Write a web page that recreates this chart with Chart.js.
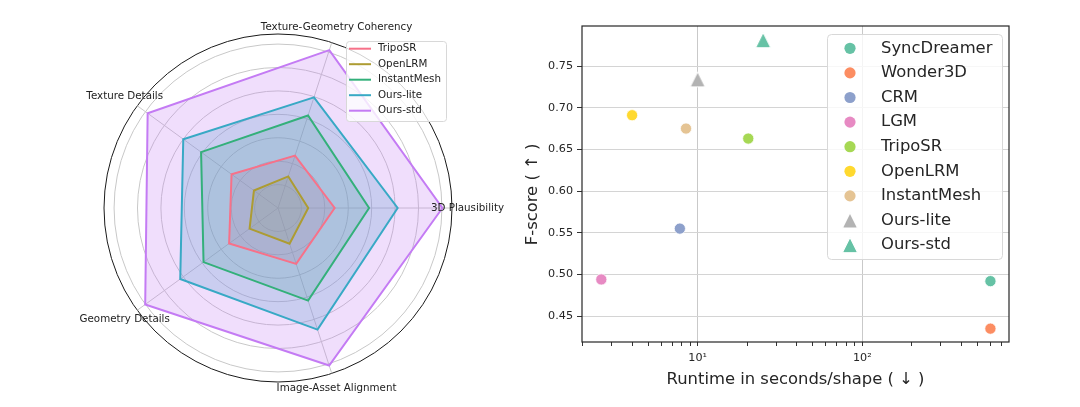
<!DOCTYPE html>
<html>
<head>
<meta charset="utf-8">
<script src="https://cdn.jsdelivr.net/npm/chart.js@4.4.1/dist/chart.umd.min.js"></script>
<style>
  body { margin: 0; background: #fff; }
  #wrap { position: relative; width: 1080px; height: 407px; }
  canvas { position: absolute; top: 0; }
  #radar { left: 0; }
  #scatter { left: 520px; }
</style>
</head>
<body>
<div id="wrap">
  <canvas id="radar" width="520" height="407"></canvas>
  <canvas id="scatter" width="560" height="407"></canvas>
</div>
<script>
// ---- radar data (axes listed clockwise starting from the right) ----
const criteria = ['3D Plausibility', 'Image-Asset Alignment', 'Geometry Details', 'Texture Details', 'Texture-Geometry Coherency'];
const radarNames = ['TripoSR', 'OpenLRM', 'InstantMesh', 'Ours-lite', 'Ours-std'];
const tripoSR = [2.42, 2.51, 2.58, 2.45, 2.35];
const openLRM = [1.29, 1.60, 1.50, 1.27, 1.42];
const instantMesh = [3.89, 4.16, 3.93, 4.06, 4.15];
const oursLite = [5.11, 5.46, 5.16, 5.00, 4.97];
const oursStd = [7.02, 7.07, 7.01, 6.88, 7.09];
const radarColors = ['#f77189', '#ad9c32', '#33b07a', '#38a9c5', '#c47bf4'];
const rGrid = [0, 1, 2, 3, 4, 5, 6, 7];
const rMax = 7.43;

// ---- scatter data ----
const methods = ['SyncDreamer', 'Wonder3D', 'CRM', 'LGM', 'TripoSR', 'OpenLRM', 'InstantMesh', 'Ours-lite', 'Ours-std'];
const runtimes = [600, 600, 7.8, 2.6, 20.3, 4.0, 8.5, 10, 25];
const fscores = [0.492, 0.435, 0.555, 0.494, 0.663, 0.691, 0.675, 0.734, 0.781];
const markers = ['circle', 'circle', 'circle', 'circle', 'circle', 'circle', 'circle', 'triangle', 'triangle'];
const scatterColors = ['#66c2a5', '#fc8d62', '#8da0cb', '#e78ac3', '#a6d854', '#ffd92f', '#e5c494', '#b3b3b3', '#66c2a5'];
const yTicks = [0.45, 0.50, 0.55, 0.60, 0.65, 0.70, 0.75];
const xTicks = [2, 3, 4, 5, 6, 7, 8, 9, 10, 20, 30, 40, 50, 60, 70, 80, 90, 100, 200, 300, 400, 500, 600, 700];
const xTickLabels = { 10: '10¹', 100: '10²' };

Chart.defaults.font.family = '"DejaVu Sans", sans-serif';
Chart.defaults.color = '#262626';

function hexA(hex, a) {
  const n = parseInt(hex.slice(1), 16);
  return 'rgba(' + (n >> 16) + ',' + ((n >> 8) & 255) + ',' + (n & 255) + ',' + a + ')';
}

function triangleMarker(color) {
  const c = document.createElement('canvas');
  c.width = 18; c.height = 18;
  const g = c.getContext('2d');
  g.beginPath();
  g.moveTo(9, 1.5); g.lineTo(16.5, 16.5); g.lineTo(1.5, 16.5); g.closePath();
  g.fillStyle = color; g.fill();
  g.strokeStyle = '#fff'; g.lineWidth = 1; g.stroke();
  return c;
}

function roundBox(ctx, x, y, w, h, r) {
  ctx.beginPath();
  ctx.moveTo(x + r, y);
  ctx.arcTo(x + w, y, x + w, y + h, r);
  ctx.arcTo(x + w, y + h, x, y + h, r);
  ctx.arcTo(x, y + h, x, y, r);
  ctx.arcTo(x, y, x + w, y, r);
  ctx.closePath();
  ctx.fillStyle = 'rgba(255,255,255,0.8)';
  ctx.fill();
  ctx.strokeStyle = '#d8d8d8';
  ctx.lineWidth = 1;
  ctx.stroke();
}

// axis names sit centered just outside the rim, like matplotlib
const radarText = {
  id: 'radarText',
  afterDraw(chart) {
    const ctx = chart.ctx, s = chart.scales.r;
    ctx.save();
    ctx.font = '10.3px "DejaVu Sans"';
    ctx.fillStyle = '#222';
    ctx.textAlign = 'center';
    ctx.textBaseline = 'middle';
    criteria.forEach((t, i) => {
      const p = s.getPointPosition(i, s.drawingArea + 15.5);
      ctx.fillText(t, p.x, p.y);
    });
    // legend
    roundBox(ctx, 346.5, 41.5, 100, 80, 3);
    ctx.textAlign = 'left';
    chart.data.datasets.forEach((ds, i) => {
      const y = 48.7 + i * 15.5;
      ctx.strokeStyle = ds.borderColor;
      ctx.lineWidth = 2;
      ctx.beginPath(); ctx.moveTo(349, y); ctx.lineTo(371, y); ctx.stroke();
      ctx.fillStyle = '#222';
      ctx.fillText(ds.label, 378, y);
    });
    ctx.restore();
  }
};

const radarSeries = [tripoSR, openLRM, instantMesh, oursLite, oursStd];

new Chart(document.getElementById('radar'), {
  type: 'radar',
  data: {
    labels: criteria,
    datasets: radarNames.map((name, i) => ({
      label: name,
      data: radarSeries[i],
      borderColor: radarColors[i],
      backgroundColor: hexA(radarColors[i], 0.25),
      borderWidth: 2,
      pointRadius: 0,
      fill: true,
      order: radarNames.length - i
    }))
  },
  options: {
    responsive: false,
    animation: false,
    layout: { padding: { left: 104, right: 68, top: 34, bottom: 25 } },
    plugins: {
      legend: { display: false },
      tooltip: { enabled: false },
      filler: { drawTime: 'beforeDatasetsDraw' }
    },
    scales: {
      r: {
        min: 0,
        max: rMax,
        startAngle: 90,
        afterBuildTicks: s => { s.ticks = rGrid.concat([rMax]).map(v => ({ value: v })); },
        ticks: { display: false },
        pointLabels: { display: false },
        grid: {
          circular: true,
          color: c => (c.tick && c.tick.value === rMax) ? '#1a1a1a' : '#c8c8c8',
          lineWidth: 1
        },
        angleLines: { color: '#c8c8c8', lineWidth: 1 }
      }
    }
  },
  plugins: [radarText]
});

// frame + legend for the runtime plot
const scatterDeco = {
  id: 'scatterDeco',
  afterDraw(chart) {
    const ctx = chart.ctx, a = chart.chartArea;
    ctx.save();
    ctx.strokeStyle = '#262626';
    ctx.lineWidth = 1.2;
    ctx.strokeRect(a.left, a.top, a.right - a.left, a.bottom - a.top);
    roundBox(ctx, 307.5, 34.5, 175, 225, 4);
    ctx.font = '16.4px "DejaVu Sans"';
    ctx.textBaseline = 'middle';
    chart.data.datasets.forEach((ds, i) => {
      const y = 48.3 + i * 24.6;
      if (typeof ds.pointStyle === 'object') {
        ctx.drawImage(ds.pointStyle, 330 - 9, y - 9);
      } else {
        ctx.beginPath();
        ctx.arc(330, y, 5.6, 0, Math.PI * 2);
        ctx.fillStyle = ds.backgroundColor;
        ctx.fill();
      }
      ctx.fillStyle = '#262626';
      ctx.fillText(ds.label, 361, y);
    });
    ctx.restore();
  }
};

new Chart(document.getElementById('scatter'), {
  type: 'scatter',
  data: {
    datasets: methods.map((m, i) => ({
      label: m,
      data: [{ x: runtimes[i], y: fscores[i] }],
      pointStyle: markers[i] === 'triangle' ? triangleMarker(scatterColors[i]) : 'circle',
      pointRadius: markers[i] === 'triangle' ? 8 : 5.6,
      backgroundColor: scatterColors[i],
      borderColor: '#fff',
      borderWidth: 0.8
    }))
  },
  options: {
    responsive: false,
    animation: false,
    layout: { padding: { left: 0, right: 71, top: 26, bottom: 0 } },
    plugins: { legend: { display: false }, tooltip: { enabled: false } },
    scales: {
      x: {
        type: 'logarithmic',
        min: 1.985,
        max: 778,
        bounds: 'data',
        afterBuildTicks: s => { s.ticks = xTicks.map(v => ({ value: v })); },
        afterFit: s => { s.height = 65; },
        border: { display: false },
        grid: {
          color: c => (c.tick && xTickLabels[c.tick.value]) ? '#c9c9c9' : 'rgba(0,0,0,0)',
          tickColor: '#333',
          tickLength: 4,
          lineWidth: 1
        },
        ticks: {
          autoSkip: false,
          maxRotation: 0,
          padding: 5,
          font: { size: 11.2 },
          callback: v => xTickLabels[v] || ''
        },
        title: {
          display: true,
          text: 'Runtime in seconds/shape ( ↓ )',
          font: { size: 16.4 },
          padding: { top: 0, bottom: 17 }
        }
      },
      y: {
        min: 0.419,
        max: 0.798,
        bounds: 'data',
        afterBuildTicks: s => { s.ticks = yTicks.map(v => ({ value: v })); },
        afterFit: s => { s.width = 62; },
        border: { display: false },
        grid: { color: '#d4d4d4', tickColor: '#333', tickLength: 5, lineWidth: 1 },
        ticks: { padding: 4, font: { size: 11.2 }, callback: v => Number(v).toFixed(2) },
        title: {
          display: true,
          // trailing spaces nudge the label down a little, as in the original
          text: 'F-score ( ↑ )    ',
          font: { size: 16.4 },
          padding: { top: 3, bottom: 0 }
        }
      }
    }
  },
  plugins: [scatterDeco]
});
</script>
</body>
</html>
